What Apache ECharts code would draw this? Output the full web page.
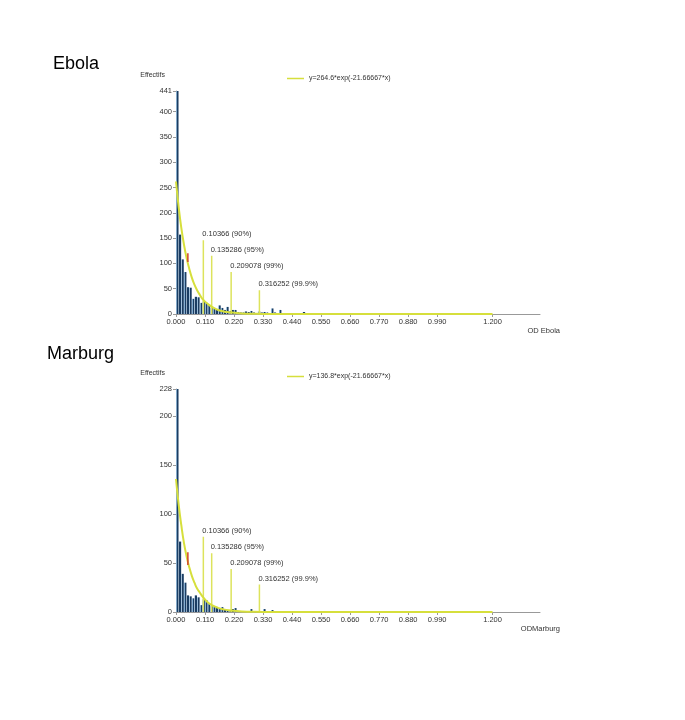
<!DOCTYPE html>
<html>
<head>
<meta charset="utf-8">
<script src="https://cdn.jsdelivr.net/npm/echarts@6/dist/echarts.min.js"></script>
<style>
  html, body { margin: 0; padding: 0; background: #fff; }
  #chart { width: 685px; height: 720px; }
</style>
</head>
<body>
<div id="chart"></div>
<script>
// histogram bins (width 0.01, starting at 0)
const binWidth = 0.01
const ebolaCounts = [441, 157, 108, 83, 53, 52, 30, 34, 33, 22, 25, 22, 18, 12, 10, 8, 17, 12, 8, 14,
  6, 8, 8, 4, 3, 3, 5, 4, 6, 3, 2, 5, 3, 4, 3, 2, 11, 3, 2, 8, 2, 1, 1, 0, 0, 1, 0, 0, 4, 0,
  0, 0, 0, 0, 0, 1, 0, 0, 0, 0, 0, 0, 0, 0, 0, 0, 0, 0, 0, 0, 0, 0, 1]
const marburgCounts = [228, 72, 39, 30, 17, 16, 14, 17, 15, 7, 13, 12, 8, 6, 5, 5, 3, 5, 2, 2,
  2, 3, 4, 1, 1, 0, 0, 0, 3, 0, 1, 0, 0, 3, 1, 0, 2, 0, 0, 0, 0, 0, 0, 0, 0, 0, 0, 0, 0, 0,
  0, 0, 1]

// fitted curve
const curveX = [0, 0.01, 0.02, 0.03, 0.04, 0.05, 0.06, 0.07, 0.08, 0.09, 0.10, 0.12, 0.14, 0.16, 0.18, 0.20,
  0.25, 0.30, 0.35, 0.40, 0.60, 0.80, 1.00, 1.20]
const ebolaCurve = [262, 212, 171, 138, 111, 90, 72, 58, 47, 38, 30, 20, 13, 8, 5, 3.5,
  1.2, 0.4, 0.1, 0, 0, 0, 0, 0]
const marburgCurve = [136, 110, 89, 71, 57, 46, 37, 30, 24, 20, 16, 10, 6.5, 4.2, 2.7, 1.8,
  0.6, 0.2, 0.1, 0, 0, 0, 0, 0]

// percentile marks
const pctX = [0.10366, 0.135286, 0.209078, 0.316252]
const pctLabels = ['0.10366 (90%)', '0.135286 (95%)', '0.209078 (99%)', '0.316252 (99.9%)']
const ebolaPctH = [146, 115, 83, 47]
const marburgPctH = [77, 60, 44, 28]

// red marker segment [x, from, to]
const ebolaRed = [0.045, 103, 120]
const marburgRed = [0.045, 48, 61]

const xTicks = [0, 0.11, 0.22, 0.33, 0.44, 0.55, 0.66, 0.77, 0.88, 0.99, 1.2]
const ebolaYTicks = [0, 50, 100, 150, 200, 250, 300, 350, 400, 441]
const marburgYTicks = [0, 50, 100, 150, 200, 228]

const FONT = 'Liberation Sans'
const barColor = new echarts.graphic.LinearGradient(0, 0, 1, 0, [
  { offset: 0, color: '#7faad0' },
  { offset: 0.3, color: '#7faad0' },
  { offset: 0.31, color: '#1b3d62' },
  { offset: 1, color: '#1b3d62' }
])

function xAxis (gridIndex, name) {
  return {
    type: 'value',
    gridIndex,
    min: 0,
    max: 1.38,
    name,
    nameLocation: 'end',
    nameGap: 20,
    nameTextStyle: { fontFamily: FONT, fontSize: 7.5, color: '#333', align: 'right', verticalAlign: 'top', padding: [13, 0, 0, 0] },
    splitLine: { show: false },
    axisLine: { lineStyle: { color: '#999' } },
    axisTick: { customValues: xTicks, length: 3, lineStyle: { color: '#999' } },
    axisLabel: {
      customValues: xTicks,
      formatter: v => v.toFixed(3),
      fontFamily: FONT, fontSize: 7.5, color: '#333', margin: 4
    }
  }
}

function yAxis (gridIndex, max, ticks) {
  return {
    type: 'value',
    gridIndex,
    min: 0,
    max,
    name: 'Effectifs',
    nameLocation: 'end',
    nameGap: 12,
    nameTextStyle: { fontFamily: FONT, fontSize: 7, color: '#333', align: 'right', padding: [0, 11, 0, 0] },
    splitLine: { show: false },
    axisLine: { show: true, lineStyle: { color: '#999' } },
    axisTick: { show: true, customValues: ticks, length: 3, lineStyle: { color: '#999' } },
    axisLabel: { customValues: ticks, fontFamily: FONT, fontSize: 7.5, color: '#333', margin: 4 }
  }
}

function histSeries (idx, counts) {
  return {
    type: 'bar',
    xAxisIndex: idx,
    yAxisIndex: idx,
    barWidth: 2.4,
    itemStyle: { color: barColor },
    data: counts.map((c, i) => [(i + 0.5) * binWidth, c]),
    z: 2
  }
}

function curveSeries (idx, name, ys) {
  return {
    type: 'line',
    name,
    xAxisIndex: idx,
    yAxisIndex: idx,
    smooth: true,
    symbol: 'none',
    lineStyle: { color: '#d6df3c', width: 2 },
    itemStyle: { color: '#d6df3c' },
    data: curveX.map((x, i) => [x, ys[i]]),
    z: 4
  }
}

function pctSeries (idx, heights) {
  let data = []
  pctX.forEach((x, i) => {
    data.push([x, 0])
    data.push({
      value: [x, heights[i]],
      label: {
        show: true, formatter: pctLabels[i], position: 'top', align: 'left',
        distance: 2, offset: [-1, 0], fontFamily: FONT, fontSize: 7.5, color: '#333'
      }
    })
    data.push('-')
  })
  return {
    type: 'line',
    xAxisIndex: idx,
    yAxisIndex: idx,
    symbol: 'circle',
    symbolSize: 0,
    showSymbol: true,
    showAllSymbol: true,
    lineStyle: { color: '#dde35c', width: 1.5 },
    itemStyle: { color: '#dde35c' },
    data,
    z: 3
  }
}

function redSeries (idx, r) {
  return {
    type: 'line',
    xAxisIndex: idx,
    yAxisIndex: idx,
    symbol: 'none',
    lineStyle: { color: '#d2452a', width: 1.5 },
    data: [[r[0], r[1]], [r[0], r[2]]],
    z: 5
  }
}

const ebolaName = 'y=264.6*exp(-21.66667*x)'
const marburgName = 'y=136.8*exp(-21.66667*x)'

const legendBase = {
  left: 282, itemWidth: 17, itemHeight: 1.5, itemGap: 4, icon: 'rect',
  textStyle: { fontFamily: FONT, fontSize: 7, color: '#333' }
}

const option = {
  animation: false,
  title: [
    { text: 'Ebola', left: 48, top: 50, textStyle: { fontFamily: FONT, fontSize: 18, fontWeight: 'normal', color: '#000' } },
    { text: 'Marburg', left: 42, top: 340, textStyle: { fontFamily: FONT, fontSize: 18, fontWeight: 'normal', color: '#000' } }
  ],
  legend: [
    Object.assign({ data: [ebolaName], top: 70 }, legendBase),
    Object.assign({ data: [marburgName], top: 368 }, legendBase)
  ],
  grid: [
    { left: 176, right: 145, top: 91, height: 223 },
    { left: 176, right: 145, top: 389, height: 223 }
  ],
  xAxis: [xAxis(0, 'OD Ebola'), xAxis(1, 'ODMarburg')],
  yAxis: [yAxis(0, 441, ebolaYTicks), yAxis(1, 228, marburgYTicks)],
  series: [
    histSeries(0, ebolaCounts),
    pctSeries(0, ebolaPctH),
    curveSeries(0, ebolaName, ebolaCurve),
    redSeries(0, ebolaRed),
    histSeries(1, marburgCounts),
    pctSeries(1, marburgPctH),
    curveSeries(1, marburgName, marburgCurve),
    redSeries(1, marburgRed)
  ]
}

const chart = echarts.init(document.getElementById('chart'))
chart.setOption(option)
</script>
</body>
</html>
